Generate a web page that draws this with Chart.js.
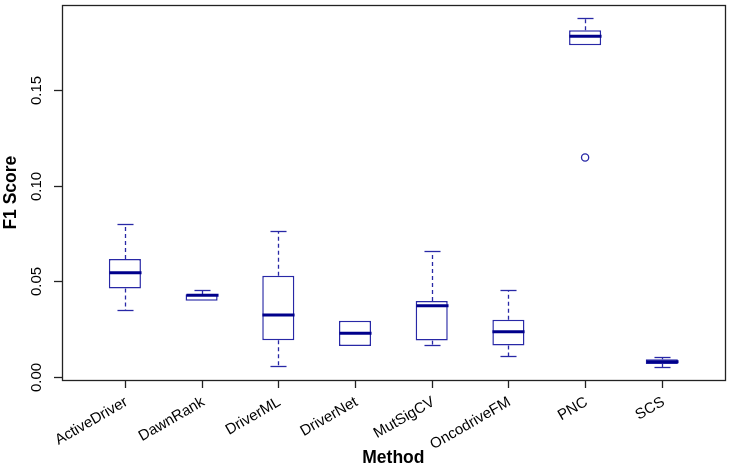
<!DOCTYPE html>
<html>
<head>
<meta charset="utf-8">
<script src="https://cdn.jsdelivr.net/npm/chart.js@4.4.1/dist/chart.umd.min.js"></script>
<style>
  html, body { margin: 0; padding: 0; background: #fff; }
</style>
</head>
<body>
<canvas id="chart" width="730" height="467"></canvas>
<script>
// F1 score boxplots per method
const methods = ['ActiveDriver', 'DawnRank', 'DriverML', 'DriverNet', 'MutSigCV', 'OncodriveFM', 'PNC', 'SCS'];
const lowerWhisker = [0.0352, 0.0399, 0.0056, 0.0162, 0.0166, 0.0110, 0.1735, 0.0052];
const q1           = [0.0463, 0.0399, 0.0192, 0.0162, 0.0190, 0.0164, 0.1735, 0.0068];
const median       = [0.0545, 0.0427, 0.0324, 0.0228, 0.0373, 0.0237, 0.1782, 0.0080];
const q3           = [0.0617, 0.0432, 0.0529, 0.0294, 0.0397, 0.0299, 0.1814, 0.0092];
const upperWhisker = [0.0798, 0.0453, 0.0765, 0.0294, 0.0660, 0.0456, 0.1875, 0.0106];
const outlierMethod = ['PNC'];
const outlierValue = [0.1148];

const yTicks = [0, 0.05, 0.10, 0.15];
const yTickLabels = ['0.00', '0.05', '0.10', '0.15'];

const boxColor = '#2828a6';
const medianColor = '#00008b';
const font = '"Liberation Sans", Arial, Helvetica, sans-serif';

const boxParts = {
  id: 'boxParts',
  afterDatasetsDraw(chart) {
    const ctx = chart.ctx;
    const x = chart.scales.x, y = chart.scales.y;
    const bars = chart.getDatasetMeta(0).data;
    ctx.save();
    methods.forEach((m, i) => {
      const cx = Math.round(x.getPixelForValue(i + 1)) + 0.5;
      const half = bars[i].width / 2;
      const capHalf = half / 2;
      ctx.strokeStyle = boxColor;
      ctx.lineWidth = 1.3;
      // whiskers
      const pairs = [[q3[i], upperWhisker[i]], [q1[i], lowerWhisker[i]]];
      pairs.forEach(([from, to]) => {
        if (Math.abs(to - from) < 1e-9) return;
        const y0 = y.getPixelForValue(from), y1 = Math.round(y.getPixelForValue(to)) + 0.5;
        ctx.setLineDash([4, 3]);
        ctx.beginPath();
        ctx.moveTo(cx, y0);
        ctx.lineTo(cx, y1);
        ctx.stroke();
        ctx.setLineDash([]);
        ctx.beginPath();
        ctx.moveTo(cx - capHalf, y1);
        ctx.lineTo(cx + capHalf, y1);
        ctx.stroke();
      });
      // median
      const my = y.getPixelForValue(median[i]);
      ctx.strokeStyle = medianColor;
      ctx.lineWidth = 3;
      ctx.beginPath();
      ctx.moveTo(cx - half, my);
      ctx.lineTo(cx + half, my);
      ctx.stroke();
    });
    ctx.restore();
  },
  afterDraw(chart) {
    const ctx = chart.ctx;
    const a = chart.chartArea;
    const x = chart.scales.x, y = chart.scales.y;
    ctx.save();
    // frame
    ctx.strokeStyle = '#222';
    ctx.lineWidth = 1.3;
    ctx.strokeRect(Math.round(a.left) + 0.5, Math.round(a.top) + 0.5,
      Math.round(a.right - a.left), Math.round(a.bottom - a.top));
    ctx.fillStyle = '#000';
    // y ticks and labels
    ctx.font = '15px ' + font;
    yTicks.forEach((v, i) => {
      const py = Math.round(y.getPixelForValue(v)) + 0.5;
      ctx.beginPath();
      ctx.moveTo(a.left, py);
      ctx.lineTo(a.left - 8, py);
      ctx.stroke();
      ctx.save();
      ctx.translate(41, py);
      ctx.rotate(-Math.PI / 2);
      ctx.textAlign = 'center';
      ctx.textBaseline = 'alphabetic';
      ctx.fillText(yTickLabels[i], 0, 0);
      ctx.restore();
    });
    // x ticks and labels
    methods.forEach((m, i) => {
      const px = Math.round(x.getPixelForValue(i + 1)) + 0.5;
      ctx.beginPath();
      ctx.moveTo(px, a.bottom);
      ctx.lineTo(px, a.bottom + 8);
      ctx.stroke();
      ctx.save();
      ctx.translate(px + 1, 401);
      ctx.rotate(-Math.PI / 6);
      ctx.textAlign = 'right';
      ctx.textBaseline = 'middle';
      ctx.fillText(m, 0, 0);
      ctx.restore();
    });
    // axis titles
    ctx.font = 'bold 17.5px ' + font;
    ctx.textAlign = 'center';
    ctx.textBaseline = 'alphabetic';
    ctx.fillText('Method', (a.left + a.right) / 2, 463);
    ctx.save();
    ctx.translate(16, (a.top + a.bottom) / 2);
    ctx.rotate(-Math.PI / 2);
    ctx.fillText('F1 Score', 0, 0);
    ctx.restore();
    ctx.restore();
  }
};

new Chart(document.getElementById('chart').getContext('2d'), {
  type: 'bar',
  data: {
    datasets: [{
      type: 'bar',
      data: methods.map((m, i) => ({ x: i + 1, y: [q1[i], q3[i]] })),
      backgroundColor: '#ffffff',
      borderColor: boxColor,
      borderWidth: 1.5,
      borderSkipped: false,
      categoryPercentage: 1,
      barPercentage: 0.51
    }, {
      type: 'scatter',
      data: outlierMethod.map((m, i) => ({ x: methods.indexOf(m) + 1, y: outlierValue[i] })),
      pointStyle: 'circle',
      pointRadius: 3.6,
      borderColor: boxColor,
      backgroundColor: 'rgba(0,0,0,0)',
      borderWidth: 1.3
    }]
  },
  options: {
    responsive: false,
    devicePixelRatio: 1,
    animation: false,
    layout: { padding: { left: 62, right: 5, top: 5, bottom: 87 } },
    plugins: { legend: { display: false }, tooltip: { enabled: false } },
    scales: {
      x: { type: 'linear', min: 0.18, max: 8.82, offset: false, display: false },
      y: { type: 'linear', min: -0.0016, max: 0.1944, display: false }
    }
  },
  plugins: [boxParts]
});
</script>
</body>
</html>
